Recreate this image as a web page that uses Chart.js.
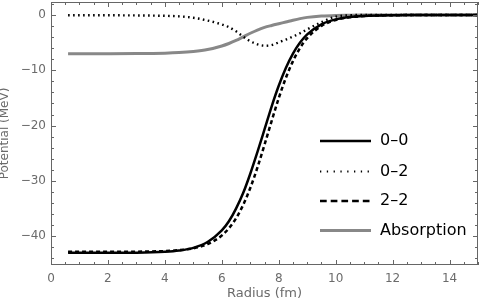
<!DOCTYPE html>
<html>
<head>
<meta charset="utf-8">
<script src="https://cdn.jsdelivr.net/npm/chart.js@4"></script>
<style>
  body { margin: 0; background: #fff; }
</style>
</head>
<body>
<canvas id="chart" width="480" height="308"></canvas>
<script>
// radius grid (fm) and potentials (MeV)
const radius     = [0.6, 1, 2, 3, 4, 4.5, 5, 5.5, 6, 6.25, 6.5, 6.75, 7, 7.25, 7.5, 7.75, 8, 8.25, 8.5, 8.75, 9, 9.5, 10, 10.5, 11, 12, 13, 14, 15];
const pot00      = [-43.0, -43.0, -43.0, -42.97, -42.8, -42.58, -42.1, -41.05, -38.95, -37.3, -35.0, -32.2, -28.7, -24.8, -20.7, -16.55, -12.8, -9.58, -6.98, -4.99, -3.5, -1.68, -0.79, -0.36, -0.17, -0.04, -0.01, 0, 0];
const pot02      = [-0.05, -0.05, -0.05, -0.08, -0.15, -0.25, -0.5, -1.0, -1.7, -2.2, -2.95, -3.9, -4.75, -5.3, -5.55, -5.45, -4.95, -4.45, -3.9, -3.3, -2.6, -1.3, -0.3, -0.05, 0, 0, 0, 0, 0];
const pot22      = [-42.8, -42.8, -42.8, -42.79, -42.68, -42.52, -42.18, -41.44, -39.87, -38.56, -36.77, -34.35, -31.28, -27.6, -23.47, -19.17, -15.04, -11.38, -8.34, -5.95, -4.17, -1.97, -0.9, -0.41, -0.18, -0.04, -0.01, 0, 0];
const absorption = [-7.0, -7.0, -7.0, -6.98, -6.9, -6.8, -6.6, -6.25, -5.6, -5.15, -4.6, -3.95, -3.3, -2.72, -2.25, -1.9, -1.58, -1.27, -0.95, -0.66, -0.43, -0.18, -0.07, -0.04, -0.02, 0, 0, 0, 0];

const xTicks = [0, 2, 4, 6, 8, 10, 12, 14];
const yTicks = [-40, -30, -20, -10, 0];

const toPoints = ys => radius.map((r, i) => ({ x: r, y: ys[i] }));
const minus = v => (v < 0 ? '\u2212' + Math.abs(v) : String(v));

const frameColor = '#666';
const labelColor = '#6b6b6b';
const fontFamily = '"DejaVu Sans", sans-serif';

// Mathematica style frame with inward ticks on all four sides
const frameTicks = {
  id: 'frameTicks',
  afterDraw(chart) {
    const { ctx, chartArea: a, scales: { x, y } } = chart;
    ctx.save();
    ctx.strokeStyle = frameColor;
    ctx.lineWidth = 1;
    ctx.strokeRect(a.left + 0.5, a.top + 0.5, a.right - a.left - 1, a.bottom - a.top - 1);
    ctx.beginPath();
    for (let v = 0; v <= x.max + 1e-9; v += 0.5) {
      const len = v % 2 === 0 ? 5 : 3;
      const px = Math.round(x.getPixelForValue(v)) + 0.5;
      ctx.moveTo(px, a.bottom); ctx.lineTo(px, a.bottom - len);
      ctx.moveTo(px, a.top); ctx.lineTo(px, a.top + len);
    }
    for (let v = -44; v <= y.max; v += 2) {
      const len = v % 10 === 0 ? 5 : 3;
      const py = Math.round(y.getPixelForValue(v)) + 0.5;
      ctx.moveTo(a.left, py); ctx.lineTo(a.left + len, py);
      ctx.moveTo(a.right, py); ctx.lineTo(a.right - len, py);
    }
    ctx.stroke();
    ctx.restore();
  }
};

// legend drawn inside the plot area, lower right
const insideLegend = {
  id: 'insideLegend',
  afterDatasetsDraw(chart) {
    const { ctx } = chart;
    const rows = [141, 171.5, 201, 230.5];
    const dashes = [[], [1.3, 5.5], [6.7, 4], []];
    ctx.save();
    ctx.font = '16px ' + fontFamily;
    ctx.textBaseline = 'middle';
    chart.data.datasets.forEach((ds, i) => {
      const yy = rows[i];
      ctx.beginPath();
      ctx.setLineDash(dashes[i]);
      ctx.strokeStyle = ds.borderColor;
      ctx.lineWidth = i === 1 ? 1.8 : ds.borderWidth;
      ctx.moveTo(320, yy);
      ctx.lineTo(371, yy);
      ctx.stroke();
      ctx.setLineDash([]);
      ctx.fillStyle = '#000';
      ctx.fillText(ds.label, 380, yy);
    });
    ctx.restore();
  }
};

const common = { pointRadius: 0, fill: false, cubicInterpolationMode: 'monotone' };

new Chart(document.getElementById('chart'), {
  type: 'line',
  data: {
    datasets: [
      { ...common, label: '0\u20130', data: toPoints(pot00), borderColor: '#000', borderWidth: 2.5 },
      { ...common, label: '0\u20132', data: toPoints(pot02), borderColor: '#000', borderWidth: 2.4, borderDash: [1.6, 3.4] },
      { ...common, label: '2\u20132', data: toPoints(pot22), borderColor: '#000', borderWidth: 2.5, borderDash: [4, 3] },
      { ...common, label: 'Absorption', data: toPoints(absorption), borderColor: '#888', borderWidth: 3 }
    ]
  },
  options: {
    responsive: false,
    animation: false,
    layout: { padding: { top: 2, right: 2, left: 0, bottom: 0 } },
    plugins: { legend: { display: false }, tooltip: { enabled: false } },
    scales: {
      x: {
        type: 'linear',
        min: 0,
        max: 15,
        afterFit: s => { s.height = 43; s.paddingLeft = 0; s.paddingRight = 0; },
        afterBuildTicks: s => { s.ticks = xTicks.map(v => ({ value: v })); },
        grid: { display: false, drawTicks: false },
        border: { display: false },
        ticks: { padding: 7, color: labelColor, font: { family: fontFamily, size: 12 }, callback: minus, maxRotation: 0 },
        title: { display: true, text: 'Radius (fm)', color: labelColor, font: { family: fontFamily, size: 13 }, padding: { top: 0, bottom: 7 } }
      },
      y: {
        type: 'linear',
        min: -45.2,
        max: 2.35,
        afterFit: s => { s.width = 51; s.paddingTop = 0; s.paddingBottom = 0; },
        afterBuildTicks: s => { s.ticks = yTicks.map(v => ({ value: v })); },
        grid: { display: false, drawTicks: false },
        border: { display: false },
        ticks: { padding: 5, color: labelColor, font: { family: fontFamily, size: 12 }, callback: minus },
        title: { display: true, text: 'Potential (MeV)', color: labelColor, font: { family: fontFamily, size: 12 }, padding: { top: -2, bottom: 0 } }
      }
    }
  },
  plugins: [frameTicks, insideLegend]
});
</script>
</body>
</html>
